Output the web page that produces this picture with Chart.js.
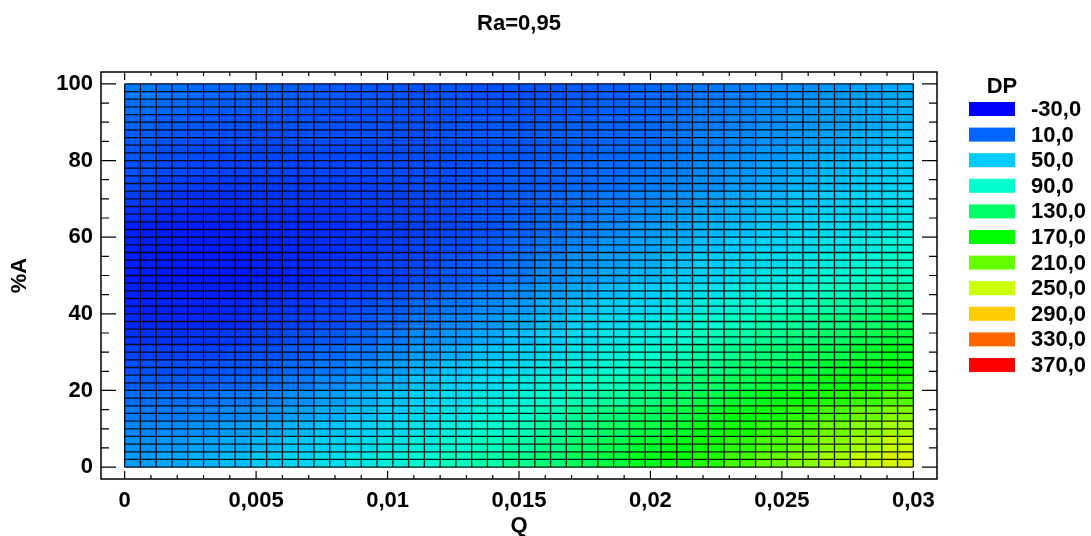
<!DOCTYPE html>
<html>
<head>
<meta charset="utf-8">
<script src="https://cdn.jsdelivr.net/npm/chart.js@4.4.1/dist/chart.umd.min.js"></script>
<style>
    html, body { margin: 0; padding: 0; background: #fff; }
    canvas { display: block; }
</style>
</head>
<body>
<canvas id="grafico" width="1091" height="536"></canvas>
<script>
// Centros das células (Q) e linhas (%A)
const qCentros = [0.0006, 0.0018, 0.003, 0.0042, 0.0054, 0.0066, 0.0078, 0.009, 0.0102, 0.0114, 0.0126, 0.0138, 0.015,
    0.0162, 0.0174, 0.0186, 0.0198, 0.021, 0.0222, 0.0234, 0.0246, 0.0258, 0.027, 0.0282, 0.0294];
const aCentros = [2, 6, 10, 14, 18, 22, 26, 30, 34, 38, 42, 46, 50, 54, 58, 62, 66, 70, 74, 78, 82, 86, 90, 94, 98];

// DP estimado por célula (uma linha por valor de %A, de baixo para cima)
const dpValores = [
    [31, 36, 40, 45, 51, 57, 64, 71, 78, 86, 95, 104, 114, 125, 136, 147, 159, 171, 183, 196, 209, 221, 234, 247, 259],
    [27, 30, 34, 38, 43, 49, 55, 62, 69, 77, 86, 95, 105, 116, 128, 139, 151, 162, 174, 186, 198, 210, 222, 235, 247],
    [23, 25, 27, 31, 36, 41, 47, 54, 61, 68, 77, 87, 97, 108, 120, 131, 143, 154, 165, 177, 188, 199, 211, 223, 235],
    [18, 19, 21, 24, 28, 33, 39, 46, 53, 60, 69, 79, 88, 99, 110, 121, 133, 144, 155, 165, 176, 187, 197, 209, 220],
    [13, 13, 14, 17, 21, 26, 32, 39, 46, 53, 62, 71, 79, 89, 99, 109, 120, 131, 142, 151, 161, 171, 182, 192, 202],
    [7, 7, 8, 10, 14, 18, 25, 32, 39, 46, 54, 62, 70, 79, 88, 97, 108, 118, 129, 137, 147, 156, 167, 176, 184],
    [2, 1, 2, 3, 7, 11, 17, 24, 31, 38, 46, 54, 61, 69, 77, 86, 96, 106, 116, 124, 133, 142, 152, 160, 168],
    [-4, -4, -4, -2, 2, 6, 11, 17, 24, 31, 38, 46, 53, 61, 68, 77, 86, 96, 106, 115, 123, 132, 141, 150, 158],
    [-10, -10, -9, -7, -4, 0, 5, 10, 17, 24, 30, 37, 44, 52, 60, 68, 77, 86, 96, 105, 113, 121, 130, 139, 148],
    [-14, -14, -14, -12, -8, -4, 0, 4, 10, 17, 23, 30, 37, 44, 52, 60, 68, 77, 85, 94, 102, 110, 119, 128, 138],
    [-16, -16, -16, -14, -11, -8, -4, 0, 5, 11, 17, 24, 30, 38, 45, 52, 59, 67, 75, 83, 91, 98, 106, 115, 124],
    [-17, -18, -18, -17, -14, -11, -8, -4, 1, 6, 12, 18, 24, 31, 37, 44, 51, 58, 65, 72, 79, 86, 94, 102, 111],
    [-19, -20, -20, -20, -18, -15, -11, -8, -4, 0, 6, 12, 18, 24, 30, 36, 42, 48, 54, 61, 68, 74, 81, 89, 97],
    [-18, -19, -19, -19, -17, -14, -11, -8, -5, -2, 4, 9, 15, 20, 26, 32, 38, 44, 50, 55, 62, 68, 74, 81, 89],
    [-17, -18, -19, -18, -16, -14, -11, -8, -6, -3, 1, 6, 11, 17, 23, 29, 34, 39, 45, 50, 56, 62, 68, 74, 81],
    [-17, -18, -18, -17, -15, -13, -11, -9, -7, -5, -1, 3, 8, 13, 19, 25, 30, 35, 41, 45, 51, 56, 61, 66, 73],
    [-11, -13, -14, -14, -12, -11, -9, -7, -5, -3, 0, 3, 7, 12, 16, 21, 26, 31, 36, 40, 46, 51, 56, 61, 67],
    [-6, -9, -10, -10, -9, -8, -7, -5, -4, -2, 0, 3, 7, 10, 14, 18, 22, 26, 31, 36, 41, 46, 51, 56, 61],
    [-1, -4, -6, -7, -7, -6, -5, -4, -2, -1, 1, 3, 6, 8, 11, 14, 18, 22, 26, 31, 36, 41, 46, 51, 56],
    [2, -1, -3, -4, -4, -4, -3, -2, -1, 0, 1, 3, 5, 8, 10, 12, 16, 20, 24, 28, 33, 37, 42, 47, 51],
    [4, 1, -1, -2, -2, -2, -1, -1, 0, 1, 2, 4, 5, 7, 9, 11, 14, 18, 22, 25, 30, 34, 38, 42, 47],
    [6, 3, 1, 0, 0, 1, 1, 1, 1, 1, 2, 4, 5, 7, 8, 10, 12, 16, 20, 23, 27, 30, 34, 38, 43],
    [10, 7, 5, 3, 3, 3, 2, 2, 2, 2, 3, 4, 4, 6, 8, 9, 12, 15, 19, 22, 26, 29, 32, 36, 41],
    [14, 11, 8, 7, 6, 5, 4, 3, 3, 2, 3, 3, 3, 5, 7, 9, 11, 14, 18, 21, 25, 28, 31, 35, 39],
    [19, 15, 12, 10, 8, 7, 6, 5, 4, 3, 3, 2, 3, 4, 6, 8, 11, 14, 17, 20, 24, 27, 30, 33, 37]
];

// Níveis da legenda DP e suas cores
const dpNiveis = [-30, 10, 50, 90, 130, 170, 210, 250, 290, 330, 370];
const coresNiveis = ['#0000ff', '#0066ff', '#00ccff', '#00ffcc', '#00ff66', '#00ff00',
    '#66ff00', '#ccff00', '#ffcc00', '#ff6600', '#ff0000'];

// Marcas dos eixos
const qTicks = [0, 0.005, 0.01, 0.015, 0.02, 0.025, 0.03];
const qTickLabels = ['0', '0,005', '0,01', '0,015', '0,02', '0,025', '0,03'];
const aTicks = [0, 20, 40, 60, 80, 100];
const aTickLabels = ['0', '20', '40', '60', '80', '100'];

const TITULO = 'Ra=0,95';
const ALTURA_CELULA = 4;
const DIVISOES = 50;
const FONTE = '"Liberation Sans", Arial, sans-serif';

function hexParaRgb(h) {
    return [parseInt(h.slice(1, 3), 16), parseInt(h.slice(3, 5), 16), parseInt(h.slice(5, 7), 16)];
}

function corDP(v) {
    const n = dpNiveis.length;
    if (v <= dpNiveis[0]) return coresNiveis[0];
    if (v >= dpNiveis[n - 1]) return coresNiveis[n - 1];
    let i = 0;
    while (v > dpNiveis[i + 1]) i++;
    const t = (v - dpNiveis[i]) / (dpNiveis[i + 1] - dpNiveis[i]);
    const a = hexParaRgb(coresNiveis[i]);
    const b = hexParaRgb(coresNiveis[i + 1]);
    const c = a.map((x, k) => Math.round(x + (b[k] - x) * t));
    return `rgb(${c[0]},${c[1]},${c[2]})`;
}

const datasets = aCentros.map((a, j) => ({
    data: qCentros.map(q => ({ x: q, y: [a - ALTURA_CELULA / 2, a + ALTURA_CELULA / 2] })),
    backgroundColor: dpValores[j].map(corDP),
    borderWidth: 0,
    grouped: false,
    barPercentage: 1,
    categoryPercentage: 1
}));

// Linhas pretas entre as células
const gradeCelulas = {
    id: 'gradeCelulas',
    afterDatasetsDraw(chart) {
        const { ctx, scales: { x, y } } = chart;
        const q0 = qTicks[0], q1 = qTicks[qTicks.length - 1];
        const a0 = aTicks[0], a1 = aTicks[aTicks.length - 1];
        ctx.save();
        ctx.strokeStyle = 'rgba(0,0,0,0.9)';
        ctx.lineWidth = 1.3;
        ctx.beginPath();
        for (let i = 0; i <= DIVISOES; i++) {
            const px = x.getPixelForValue(q0 + (q1 - q0) * i / DIVISOES);
            ctx.moveTo(px, y.getPixelForValue(a0));
            ctx.lineTo(px, y.getPixelForValue(a1));
            const py = y.getPixelForValue(a0 + (a1 - a0) * i / DIVISOES);
            ctx.moveTo(x.getPixelForValue(q0), py);
            ctx.lineTo(x.getPixelForValue(q1), py);
        }
        ctx.stroke();
        ctx.restore();
    }
};

// Moldura com marcas para dentro nos quatro lados, e título centrado na área do gráfico
const moldura = {
    id: 'moldura',
    afterDraw(chart) {
        const { ctx, chartArea: c, scales: { x, y } } = chart;
        ctx.save();
        ctx.strokeStyle = '#000';
        ctx.lineWidth = 1.5;
        ctx.strokeRect(c.left, c.top, c.right - c.left, c.bottom - c.top);
        ctx.lineWidth = 1.2;
        ctx.beginPath();
        for (let i = 0; i <= 30; i++) {
            const px = x.getPixelForValue(i * 0.001);
            const len = i % 5 === 0 ? 8 : 4;
            ctx.moveTo(px, c.bottom); ctx.lineTo(px, c.bottom - len);
            ctx.moveTo(px, c.top); ctx.lineTo(px, c.top + len);
        }
        for (let i = 0; i <= 20; i++) {
            const py = y.getPixelForValue(i * 5);
            const len = i % 4 === 0 ? 15 : 8;
            ctx.moveTo(c.left, py); ctx.lineTo(c.left + len, py);
            ctx.moveTo(c.right, py); ctx.lineTo(c.right - len, py);
        }
        ctx.stroke();

        ctx.font = `bold 22px ${FONTE}`;
        ctx.fillStyle = '#000';
        ctx.textAlign = 'center';
        ctx.textBaseline = 'middle';
        ctx.fillText(TITULO, (c.left + c.right) / 2, 24);
        ctx.restore();
    }
};

const legendaDP = {
    id: 'legendaDP',
    afterDraw(chart) {
        const ctx = chart.ctx;
        ctx.save();
        ctx.font = `bold 22px ${FONTE}`;
        ctx.fillStyle = '#000';
        ctx.textAlign = 'center';
        ctx.textBaseline = 'middle';
        ctx.fillText('DP', 1002, 87);
        dpNiveis.forEach((n, i) => {
            const yc = 109 + i * 25.6;
            ctx.fillStyle = coresNiveis[i];
            ctx.fillRect(969, yc - 7, 46, 14);
            ctx.fillStyle = '#000';
            ctx.textAlign = 'left';
            ctx.fillText(n.toFixed(1).replace('.', ','), 1031, yc + 1);
        });
        ctx.restore();
    }
};

const fonteEixo = { family: FONTE, size: 22, weight: 'bold' };

new Chart(document.getElementById('grafico').getContext('2d'), {
    type: 'bar',
    data: { datasets },
    options: {
        responsive: false,
        animation: false,
        layout: { padding: { left: 0, right: 154, top: 72, bottom: 0 } },
        plugins: {
            legend: { display: false },
            tooltip: { enabled: false },
            title: { display: false }
        },
        scales: {
            x: {
                type: 'linear',
                min: -0.0009,
                max: 0.0309,
                offset: false,
                grid: { display: false, drawTicks: false },
                border: { display: false },
                afterBuildTicks: s => { s.ticks = qTicks.map(v => ({ value: v })); },
                afterFit: s => { s.height = 57; },
                ticks: {
                    callback: (v, i) => qTickLabels[i],
                    color: '#000',
                    font: fonteEixo,
                    padding: 9,
                    maxRotation: 0,
                    autoSkip: false
                },
                title: { display: true, text: 'Q', color: '#000', font: fonteEixo, padding: { top: 0, bottom: -3 } }
            },
            y: {
                type: 'linear',
                min: -3.1,
                max: 103.1,
                grid: { display: false, drawTicks: false },
                border: { display: false },
                afterBuildTicks: s => { s.ticks = aTicks.map(v => ({ value: v })); },
                afterFit: s => { s.width = 101; },
                ticks: {
                    callback: (v, i) => aTickLabels[i],
                    color: '#000',
                    font: fonteEixo,
                    padding: 8,
                    autoSkip: false
                },
                title: { display: true, text: '%A', color: '#000', font: fonteEixo, padding: { top: 7, bottom: 0 } }
            }
        }
    },
    plugins: [gradeCelulas, moldura, legendaDP]
});
</script>
</body>
</html>
